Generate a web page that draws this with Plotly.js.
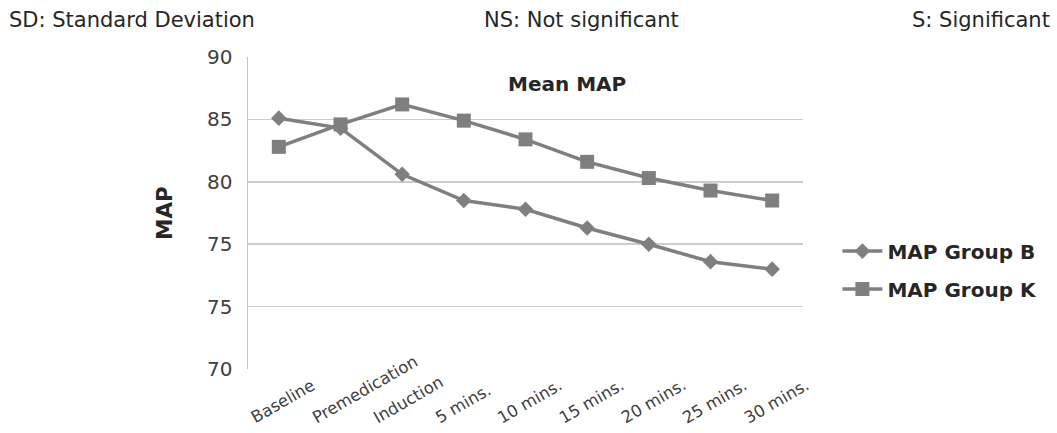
<!DOCTYPE html>
<html>
<head>
<meta charset="utf-8">
<script src="https://cdn.plot.ly/plotly-3.0.1.min.js"></script>
<style>html,body{margin:0;padding:0;background:#fff;}#chart{width:1057px;height:433px;}</style>
</head>
<body>
<div id="chart"></div>
<script>
const categories = ["Baseline","Premedication","Induction","5 mins.","10 mins.","15 mins.","20 mins.","25 mins.","30 mins."];
const groupB = [85.1, 84.3, 80.6, 78.5, 77.8, 76.3, 75.0, 73.6, 73.0];
const groupK = [82.8, 84.6, 86.2, 84.9, 83.4, 81.6, 80.3, 79.3, 78.5];
const yTickVals = [65, 70, 75, 80, 85, 90];
const yTickText = ["70", "75", "75", "80", "85", "90"];

const grey = "#7f7f7f";
const font = "DejaVu Sans, Liberation Sans, sans-serif";

const traces = [
  {x: categories, y: groupB, name: "MAP Group B", type: "scatter", mode: "lines+markers", legendgroup: "b",
   line: {color: grey, width: 3.5}, marker: {symbol: "diamond", size: 12, color: grey}},
  {x: categories, y: groupK, name: "MAP Group K", type: "scatter", mode: "lines+markers", legendgroup: "k",
   line: {color: grey, width: 3.5}, marker: {symbol: "square", size: 14, color: grey}}
];

// category labels, rotated, anchored at their start (bottom-left) like the original
const catLabels = categories.map(c => ({
  text: c, xref: "x", yref: "paper", x: c, y: 0, yshift: -61, xshift: -34,
  xanchor: "left", yanchor: "bottom", textangle: -30, showarrow: false,
  font: {family: font, size: 16.5, color: "#404040"}
}));

const layout = {
  width: 1057, height: 433,
  margin: {l: 248, r: 254, t: 57, b: 64},
  paper_bgcolor: "#fff", plot_bgcolor: "#fff",
  showlegend: true,
  legend: {x: 1.062, y: 0.317, xanchor: "left", yanchor: "middle",
           font: {family: font, size: 20, color: "#262626", weight: "bold"},
           tracegroupgap: 9, itemwidth: 40},
  xaxis: {type: "category", range: [-0.5, 8.5], showgrid: false, zeroline: false,
          showline: false, ticks: "", showticklabels: false},
  yaxis: {range: [65, 90], tickvals: yTickVals, ticktext: yTickText,
          showgrid: true, gridcolor: "#cccccc", gridwidth: 1.5, zeroline: false,
          showline: true, linecolor: "#c4c4c4", linewidth: 1.5, ticks: "",
          tickfont: {family: font, size: 20, color: "#404040"}, ticklabelstandoff: 10,
          title: {text: "MAP", font: {family: font, size: 21.5, color: "#262626", weight: "bold"}, standoff: 28}},
  annotations: [
    {text: "Mean MAP", xref: "paper", yref: "paper", x: 0.575, y: 0.915, showarrow: false,
     xanchor: "center", yanchor: "middle", font: {family: font, size: 20, color: "#262626", weight: "bold"}},
    {text: "SD: Standard Deviation", xref: "paper", yref: "paper", x: -0.435, y: 1.12, showarrow: false,
     xanchor: "left", yanchor: "middle", font: {family: font, size: 21, color: "#262626"}},
    {text: "NS: Not significant", xref: "paper", yref: "paper", x: 0.6, y: 1.12, showarrow: false,
     xanchor: "center", yanchor: "middle", font: {family: font, size: 21, color: "#262626"}},
    {text: "S: Significant", xref: "paper", yref: "paper", x: 1.449, y: 1.12, showarrow: false,
     xanchor: "right", yanchor: "middle", font: {family: font, size: 21, color: "#262626"}}
  ].concat(catLabels)
};

Plotly.newPlot("chart", traces, layout, {displayModeBar: false, staticPlot: true});
</script>
</body>
</html>
